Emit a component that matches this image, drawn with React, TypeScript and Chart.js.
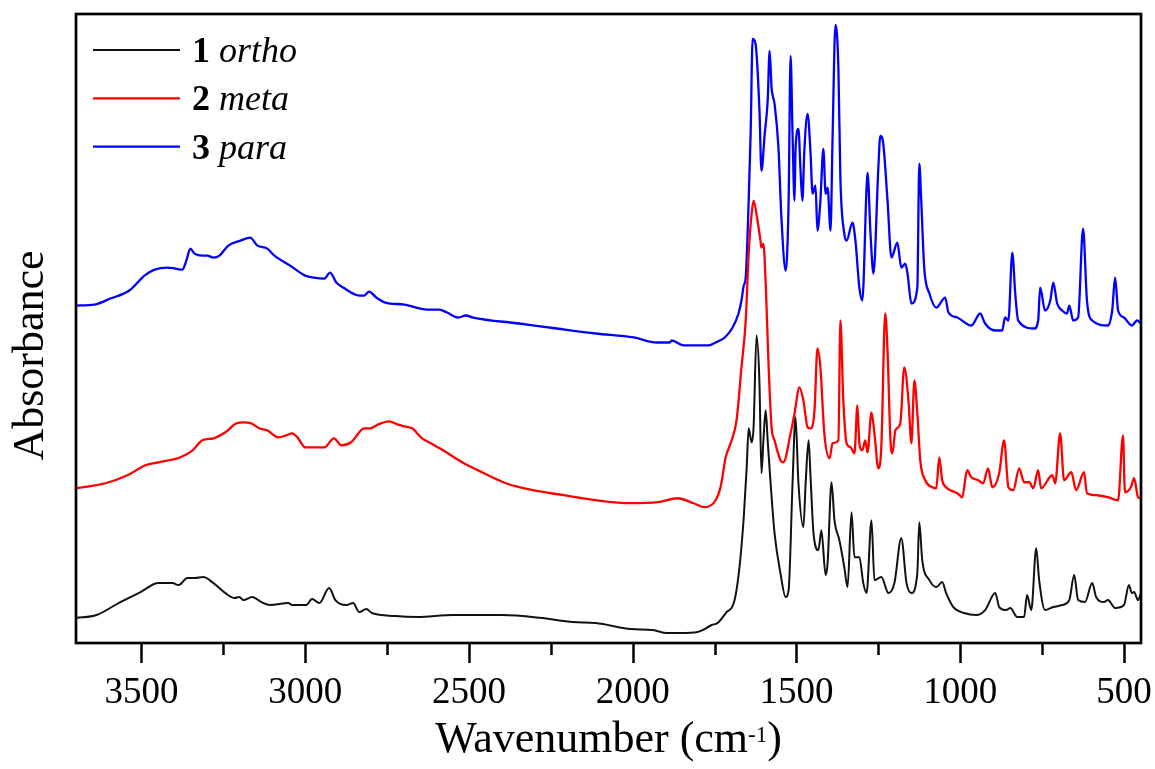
import React, { useEffect, useRef } from "react";
import { Chart, registerables } from "chart.js";

Chart.register(...registerables);

// ---- Axis ticks ----
const xTickValues = [3500, 3000, 2500, 2000, 1500, 1000, 500];
const xMinorTickValues = [3250, 2750, 2250, 1750, 1250, 750];
const xRange = { min: 448, max: 3700 };
const yRange = { min: 0, max: 6.3 };

// ---- Legend ----
const seriesNumbers = ["1", "2", "3"];
const seriesNames = ["ortho", "meta", "para"];
const seriesColors = ["#111111", "#ff0000", "#0000ff"];

// ---- 1 ortho ----
const orthoWavenumber = [
  3700, 3637, 3570, 3503, 3448, 3405, 3387, 3360, 3338, 3311, 3284, 3244, 3216, 3201, 3189, 3162,
  3134, 3107, 3052, 3040, 2997, 2979, 2957, 2927, 2908, 2875, 2854, 2835, 2814, 2796, 2726, 2658,
  2549, 2399, 2277, 2183, 2113, 2006, 1939, 1896, 1854, 1802, 1786, 1759, 1741, 1716, 1689, 1674,
  1661, 1652, 1646, 1637, 1631, 1622, 1613, 1607, 1601, 1594, 1588, 1579, 1567, 1549, 1533, 1524,
  1512, 1503, 1494, 1479, 1472, 1463, 1457, 1448, 1433, 1424, 1411, 1405, 1393, 1384, 1369, 1354,
  1344, 1332, 1323, 1308, 1296, 1286, 1271, 1262, 1241, 1219, 1201, 1180, 1164, 1149, 1131, 1125,
  1116, 1094, 1073, 1055, 1043, 1021, 988, 951, 924, 893, 881, 860, 847, 826, 805, 796,
  783, 768, 759, 741, 716, 689, 667, 652, 640, 619, 597, 585, 561, 549, 527, 500,
  485, 476, 469, 457, 448,
];
const orthoAbsorbance = [
  0.25, 0.28, 0.40, 0.51, 0.60, 0.60, 0.58, 0.65, 0.65, 0.66, 0.61, 0.50, 0.45, 0.46, 0.43, 0.46,
  0.41, 0.38, 0.40, 0.38, 0.38, 0.44, 0.40, 0.55, 0.43, 0.38, 0.40, 0.31, 0.34, 0.30, 0.27, 0.26,
  0.28, 0.28, 0.25, 0.21, 0.20, 0.14, 0.13, 0.10, 0.10, 0.11, 0.13, 0.18, 0.20, 0.30, 0.43, 0.76,
  1.26, 1.76, 2.15, 2.01, 2.16, 3.08, 2.60, 1.70, 2.03, 2.33, 2.03, 1.60, 1.10, 0.70, 0.46, 0.53,
  1.60, 2.26, 1.60, 1.16, 1.60, 2.03, 1.66, 1.10, 0.93, 1.13, 0.68, 0.80, 1.61, 1.23, 1.03, 0.76,
  0.56, 1.31, 0.86, 0.86, 0.60, 0.50, 1.23, 0.63, 0.66, 0.50, 0.60, 1.05, 0.60, 0.50, 0.70, 1.21,
  0.83, 0.63, 0.56, 0.61, 0.50, 0.36, 0.30, 0.28, 0.33, 0.50, 0.36, 0.33, 0.35, 0.26, 0.26, 0.48,
  0.33, 0.95, 0.63, 0.33, 0.36, 0.38, 0.43, 0.68, 0.43, 0.41, 0.60, 0.46, 0.41, 0.43, 0.35, 0.38,
  0.58, 0.50, 0.51, 0.43, 0.50,
];

// ---- 2 meta ----
const metaWavenumber = [
  3700, 3610, 3543, 3488, 3448, 3381, 3344, 3314, 3280, 3244, 3210, 3186, 3165, 3140, 3116, 3082,
  3058, 3040, 3024, 3000, 2976, 2942, 2912, 2890, 2860, 2820, 2802, 2777, 2744, 2719, 2698, 2674,
  2643, 2616, 2579, 2521, 2454, 2387, 2305, 2210, 2113, 2006, 1924, 1863, 1814, 1780, 1747, 1732,
  1716, 1698, 1683, 1668, 1655, 1646, 1637, 1631, 1619, 1610, 1607, 1601, 1594, 1585, 1576, 1567,
  1549, 1540, 1518, 1506, 1491, 1479, 1466, 1457, 1445, 1436, 1427, 1415, 1399, 1390, 1372, 1366,
  1357, 1347, 1335, 1323, 1314, 1308, 1299, 1290, 1283, 1271, 1262, 1250, 1241, 1229, 1222, 1213,
  1207, 1198, 1183, 1171, 1158, 1149, 1140, 1131, 1122, 1107, 1085, 1073, 1064, 1055, 1043, 1030,
  1009, 994, 979, 966, 945, 930, 915, 902, 881, 866, 853, 838, 820, 805, 789, 777,
  762, 753, 719, 710, 695, 683, 661, 646, 622, 613, 582, 549, 518, 503, 497, 479,
  469, 457, 448,
];
const metaAbsorbance = [
  1.55, 1.60, 1.68, 1.78, 1.81, 1.86, 1.93, 2.03, 2.05, 2.11, 2.20, 2.21, 2.20, 2.15, 2.13, 2.06,
  2.08, 2.10, 2.06, 1.96, 1.96, 1.96, 2.05, 1.98, 2.01, 2.15, 2.15, 2.19, 2.22, 2.19, 2.17, 2.15,
  2.05, 2.00, 1.93, 1.81, 1.70, 1.60, 1.53, 1.48, 1.43, 1.40, 1.41, 1.45, 1.40, 1.36, 1.43, 1.56,
  1.86, 2.03, 2.23, 2.76, 3.23, 3.90, 4.30, 4.43, 4.23, 4.03, 3.96, 4.00, 3.60, 2.76, 2.16, 2.03,
  1.83, 1.81, 2.10, 2.30, 2.56, 2.43, 2.16, 2.15, 2.33, 2.95, 2.76, 2.10, 1.85, 2.00, 2.03, 3.23,
  2.43, 2.00, 1.96, 1.90, 2.38, 2.00, 1.93, 2.03, 1.91, 2.31, 2.10, 1.75, 1.96, 3.30, 2.93, 2.03,
  1.90, 2.13, 2.20, 2.76, 2.43, 2.00, 2.63, 2.30, 1.83, 1.63, 1.56, 1.55, 1.86, 1.63, 1.56, 1.53,
  1.50, 1.46, 1.73, 1.66, 1.63, 1.60, 1.75, 1.56, 1.70, 2.03, 1.56, 1.53, 1.75, 1.61, 1.61, 1.55,
  1.73, 1.55, 1.68, 1.60, 2.10, 1.63, 1.71, 1.53, 1.71, 1.50, 1.48, 1.46, 1.43, 2.08, 1.51, 1.56,
  1.65, 1.46, 1.45,
];

// ---- 3 para ----
const paraWavenumber = [
  3700, 3643, 3595, 3537, 3491, 3460, 3421, 3396, 3375, 3363, 3351, 3338, 3314, 3299, 3280, 3262,
  3235, 3198, 3168, 3146, 3116, 3094, 3046, 3000, 2973, 2942, 2924, 2905, 2884, 2835, 2820, 2805,
  2783, 2756, 2698, 2628, 2591, 2567, 2533, 2509, 2488, 2347, 2232, 2113, 1997, 1927, 1887, 1881,
  1844, 1768, 1747, 1719, 1695, 1677, 1668, 1661, 1655, 1646, 1640, 1634, 1625, 1613, 1607, 1597,
  1588, 1582, 1576, 1567, 1555, 1546, 1533, 1524, 1518, 1512, 1506, 1503, 1494, 1488, 1482, 1476,
  1466, 1457, 1451, 1442, 1436, 1427, 1418, 1411, 1405, 1396, 1390, 1381, 1372, 1366, 1354, 1347,
  1329, 1320, 1308, 1299, 1286, 1283, 1274, 1265, 1250, 1244, 1235, 1222, 1210, 1192, 1180, 1168,
  1161, 1149, 1131, 1125, 1119, 1110, 1094, 1073, 1046, 1036, 1009, 966, 939, 924, 893, 872,
  863, 853, 841, 832, 823, 774, 762, 756, 741, 725, 716, 704, 689, 674, 667, 655,
  640, 625, 613, 597, 549, 536, 527, 518, 500, 476, 460, 448,
];
const paraAbsorbance = [
  3.38, 3.39, 3.45, 3.53, 3.68, 3.74, 3.76, 3.75, 3.74, 3.83, 3.95, 3.90, 3.88, 3.88, 3.86, 3.88,
  3.98, 4.03, 4.06, 3.98, 3.95, 3.88, 3.78, 3.68, 3.66, 3.65, 3.71, 3.61, 3.56, 3.48, 3.48, 3.52,
  3.46, 3.41, 3.39, 3.34, 3.34, 3.31, 3.26, 3.28, 3.26, 3.20, 3.15, 3.10, 3.06, 3.01, 3.01, 3.03,
  2.98, 2.98, 3.01, 3.06, 3.16, 3.30, 3.43, 3.58, 3.66, 4.43, 5.10, 6.05, 6.00, 5.33, 4.73, 5.10,
  5.43, 5.93, 5.56, 5.40, 4.96, 4.26, 3.73, 4.43, 5.88, 5.10, 4.43, 4.93, 5.15, 4.76, 4.43, 4.93,
  5.30, 4.90, 4.50, 4.58, 4.13, 4.43, 4.95, 4.50, 4.56, 4.13, 5.03, 6.19, 5.76, 4.66, 4.10, 4.03,
  4.21, 4.03, 3.56, 3.43, 4.56, 4.71, 4.10, 3.70, 4.76, 5.08, 5.00, 4.43, 3.86, 4.01, 3.76, 3.80,
  3.70, 3.40, 3.56, 4.80, 4.43, 3.76, 3.50, 3.36, 3.46, 3.31, 3.26, 3.18, 3.30, 3.20, 3.13, 3.13,
  3.26, 3.23, 3.91, 3.50, 3.23, 3.15, 3.23, 3.56, 3.33, 3.43, 3.61, 3.40, 3.33, 3.30, 3.38, 3.23,
  3.26, 4.15, 3.43, 3.23, 3.18, 3.33, 3.66, 3.33, 3.26, 3.18, 3.23, 3.20,
];

const FONT = '"Liberation Serif", "Times New Roman", Times, serif';

const toPoints = (xs: number[], ys: number[]) => xs.map((x, i) => ({ x, y: ys[i] }));

const decorPlugin = {
  id: "decor",
  afterDraw(chart: any) {
    const { ctx, chartArea: a, scales } = chart;
    const xs = scales.x;
    ctx.save();
    ctx.strokeStyle = "#000";
    ctx.lineWidth = 2.5;
    ctx.lineCap = "butt";
    // major + minor ticks
    ctx.beginPath();
    for (const v of xTickValues) {
      const px = Math.round(xs.getPixelForValue(v)) + 0.5;
      ctx.moveTo(px, a.bottom);
      ctx.lineTo(px, a.bottom + 20);
    }
    for (const v of xMinorTickValues) {
      const px = Math.round(xs.getPixelForValue(v)) + 0.5;
      ctx.moveTo(px, a.bottom);
      ctx.lineTo(px, a.bottom + 12);
    }
    ctx.stroke();
    // frame
    ctx.lineWidth = 2.7;
    ctx.strokeRect(a.left, a.top, a.right - a.left, a.bottom - a.top);

    // legend
    const rowY = [a.top + 36, a.top + 84.3, a.top + 132.7];
    for (let i = 0; i < seriesNames.length; i++) {
      ctx.strokeStyle = seriesColors[i];
      ctx.lineWidth = 2.2;
      ctx.beginPath();
      ctx.moveTo(a.left + 17, rowY[i]);
      ctx.lineTo(a.left + 104, rowY[i]);
      ctx.stroke();
      ctx.fillStyle = "#000";
      ctx.textAlign = "left";
      ctx.textBaseline = "alphabetic";
      ctx.font = `bold 36px ${FONT}`;
      ctx.fillText(seriesNumbers[i], a.left + 116, rowY[i] + 12);
      const w = ctx.measureText(seriesNumbers[i]).width;
      ctx.font = `italic 36px ${FONT}`;
      ctx.fillText(seriesNames[i], a.left + 116 + w + 9, rowY[i] + 12);
    }

    // x-axis title with superscript
    ctx.fillStyle = "#000";
    ctx.textBaseline = "alphabetic";
    ctx.textAlign = "left";
    const mainFont = `44px ${FONT}`;
    const supFont = `23px ${FONT}`;
    const part1 = "Wavenumber (cm";
    const sup = "-1";
    const part3 = ")";
    ctx.font = mainFont;
    const w1 = ctx.measureText(part1).width;
    const w3 = ctx.measureText(part3).width;
    ctx.font = supFont;
    const w2 = ctx.measureText(sup).width;
    const total = w1 + w2 + w3;
    const cx = (a.left + a.right) / 2;
    const x0 = cx - total / 2;
    const base = a.bottom + 109;
    ctx.font = mainFont;
    ctx.fillText(part1, x0, base);
    ctx.font = supFont;
    ctx.fillText(sup, x0 + w1, base - 10);
    ctx.font = mainFont;
    ctx.fillText(part3, x0 + w1 + w2, base);

    // y-axis title
    ctx.save();
    ctx.translate(a.left - 33, (a.top + a.bottom) / 2 + 27);
    ctx.rotate(-Math.PI / 2);
    ctx.textAlign = "center";
    ctx.textBaseline = "alphabetic";
    ctx.font = mainFont;
    ctx.fillText("Absorbance", 0, 0);
    ctx.restore();

    ctx.restore();
  },
};

export default function App() {
  const canvasRef = useRef<HTMLCanvasElement | null>(null);

  useEffect(() => {
    if (!canvasRef.current) return;
    const seriesX = [orthoWavenumber, metaWavenumber, paraWavenumber];
    const seriesY = [orthoAbsorbance, metaAbsorbance, paraAbsorbance];
    const chart = new Chart(canvasRef.current, {
      type: "line",
      data: {
        datasets: seriesNames.map((name, i) => ({
          label: `${seriesNumbers[i]} ${name}`,
          data: toPoints(seriesX[i], seriesY[i]),
          borderColor: seriesColors[i],
          backgroundColor: seriesColors[i],
          borderWidth: i === 0 ? 2 : 2.3,
          pointRadius: 0,
          cubicInterpolationMode: "monotone",
          fill: false,
        })),
      },
      options: {
        animation: false,
        responsive: true,
        maintainAspectRatio: false,
        layout: { padding: { left: 76, right: 14, top: 14, bottom: 0 } },
        plugins: {
          legend: { display: false },
          tooltip: { enabled: false },
          title: { display: false },
        },
        scales: {
          x: {
            type: "linear",
            reverse: true,
            min: xRange.min,
            max: xRange.max,
            grid: { display: false },
            border: { display: false },
            afterBuildTicks: (scale: any) => {
              scale.ticks = xTickValues.map((v) => ({ value: v }));
            },
            afterFit: (scale: any) => {
              scale.height = 126;
              scale.paddingLeft = 0;
              scale.paddingRight = 0;
            },
            ticks: {
              color: "#000",
              padding: 20,
              maxRotation: 0,
              autoSkip: false,
              font: { family: FONT, size: 37 },
              callback: (v: any) => String(v),
            },
          },
          y: {
            display: false,
            min: yRange.min,
            max: yRange.max,
          },
        },
      },
      plugins: [decorPlugin],
    });
    return () => chart.destroy();
  }, []);

  return (
    <div
      style={{
        position: "absolute",
        left: 0,
        top: 0,
        width: 1155,
        height: 769,
        background: "#ffffff",
      }}
    >
      <canvas ref={canvasRef} />
    </div>
  );
}
